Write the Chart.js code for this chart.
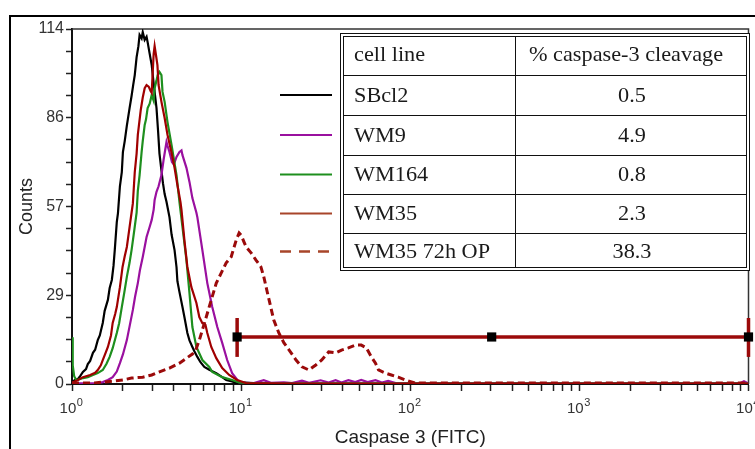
<!DOCTYPE html>
<html>
<head>
<meta charset="utf-8">
<script src="https://cdn.jsdelivr.net/npm/chart.js@4.4.0/dist/chart.umd.min.js"></script>
<style>
  html, body { margin: 0; padding: 0; background: #fff; }
  canvas { display: block; }
</style>
</head>
<body>
<canvas id="histo" width="755" height="449"></canvas>
<script>
// Caspase 3 (FITC) flow histograms: log intensity on x, counts on y

const xTicks = [1, 2, 3, 4, 5, 6, 7, 8, 9,
  10, 20, 30, 40, 50, 60, 70, 80, 90,
  100, 200, 300, 400, 500, 600, 700, 800, 900,
  1000, 2000, 3000, 4000, 5000, 6000, 7000, 8000, 9000, 10000];
const xDecades = [1, 10, 100, 1000, 10000];
const xExponents = ['0', '1', '2', '3', '4'];

const yTicks = [0, 7.125, 14.25, 21.375, 28.5, 35.625, 42.75, 49.875, 57,
  64.125, 71.25, 78.375, 85.5, 92.625, 99.75, 106.875, 114];
const yTickLabels = { 0: '0', 28.5: '29', 57: '57', 85.5: '86', 114: '114' };

// [intensity, counts]
const sbcl2 = [[1.00, 0.6], [1.04, 1.3], [1.085, 1.6], [1.12, 2.6], [1.16, 3.9], [1.21, 4.8], [1.24, 6.4],
  [1.28, 7.4], [1.33, 10.0], [1.37, 11.0], [1.42, 14.1], [1.46, 15.6], [1.52, 19.6], [1.56, 23.5],
  [1.63, 27.0], [1.67, 30.8], [1.72, 33.4], [1.76, 38.0], [1.79, 43.0], [1.84, 52.0], [1.87, 54.9],
  [1.92, 63.5], [1.97, 68.0], [2.00, 74.5], [2.05, 78.0], [2.11, 83.0], [2.19, 88.6], [2.25, 92.5],
  [2.30, 96.0], [2.35, 99.2], [2.41, 105.0], [2.47, 108.5], [2.51, 112.1], [2.58, 111.0], [2.62, 113.0],
  [2.69, 110.5], [2.76, 111.5], [2.80, 109.8], [2.88, 106.0], [2.96, 102.4], [3.04, 96.5], [3.16, 88.6],
  [3.23, 81.0], [3.29, 74.0], [3.38, 68.5], [3.45, 64.5], [3.53, 61.0], [3.62, 58.5], [3.77, 53.6],
  [3.88, 48.0], [4.04, 43.0], [4.15, 37.5], [4.20, 33.0], [4.32, 29.5], [4.50, 24.7], [4.62, 21.5],
  [4.81, 16.4], [4.95, 14.0], [5.15, 11.9], [5.29, 10.5], [5.51, 8.7], [5.75, 7.0], [6.06, 5.5],
  [6.48, 4.6], [7.13, 3.5], [7.73, 2.2], [8.16, 1.3], [8.85, 0.8], [9.35, 0.3], [11, 0.2], [20, 0.1],
  [10000, 0.1]];

const wm9 = [[1.00, 0.2], [1.42, 0.3], [1.52, 0.6], [1.63, 1.3], [1.74, 2.2], [1.84, 4.0], [1.92, 6.7],
  [2.00, 9.5], [2.11, 14.1], [2.19, 18.5], [2.29, 23.8], [2.36, 28.0], [2.45, 32.4], [2.52, 36.5],
  [2.62, 40.8], [2.70, 44.5], [2.76, 47.2], [2.88, 50.5], [2.96, 52.7], [3.04, 56.0], [3.08, 59.1],
  [3.16, 61.7], [3.25, 63.5], [3.38, 67.1], [3.48, 72.0], [3.62, 77.7], [3.67, 76.5], [3.77, 74.5],
  [3.90, 71.3], [4.00, 70.5], [4.15, 72.9], [4.32, 74.5], [4.44, 75.0], [4.50, 73.5], [4.75, 69.4],
  [4.95, 64.9], [5.15, 59.7], [5.44, 55.0], [5.51, 53.6], [5.90, 43.0], [6.31, 32.4], [6.75, 24.7],
  [7.23, 18.3], [7.73, 13.2], [8.27, 7.7], [8.85, 3.5], [9.73, 0.6], [10.4, 0.5], [11.9, 0.3],
  [13.6, 1.2], [15, 0.4], [17.9, 0.5], [20, 0.3], [22.9, 1.1], [25.2, 0.4], [29.5, 1.2], [32.9, 0.5],
  [36.2, 1.2], [39.2, 0.5], [43.1, 1.2], [47.3, 0.6], [51.3, 1.3], [56, 0.6], [62.3, 1.2], [68, 0.5],
  [74, 1.0], [82, 0.3], [100, 0.1], [8800, 0.1], [9400, 0.9], [10000, 0.2]];

const wm164 = [[1.00, 15.0], [1.01, 6.0], [1.03, 2.5], [1.06, 1.3], [1.12, 1.6], [1.16, 1.9], [1.24, 2.2],
  [1.33, 2.9], [1.42, 3.5], [1.52, 4.5], [1.60, 6.5], [1.67, 8.7], [1.74, 11.5], [1.84, 16.4],
  [1.90, 19.5], [1.97, 24.7], [2.04, 29.5], [2.11, 34.4], [2.19, 39.0], [2.25, 43.0], [2.33, 49.0],
  [2.41, 55.0], [2.45, 62.0], [2.51, 67.1], [2.58, 74.5], [2.62, 78.0], [2.69, 83.2], [2.74, 85.0],
  [2.80, 88.6], [2.88, 90.0], [2.96, 92.8], [3.04, 91.0], [3.08, 95.0], [3.16, 97.5], [3.21, 99.2],
  [3.29, 100.2], [3.38, 99.2], [3.43, 93.8], [3.53, 90.6], [3.67, 84.1], [3.88, 76.7], [4.15, 67.1],
  [4.32, 58.4], [4.50, 50.4], [4.75, 39.8], [4.95, 29.2], [5.15, 18.3], [5.44, 11.9], [5.90, 7.7],
  [6.48, 5.5], [6.75, 3.9], [7.73, 2.2], [8.85, 1.3], [9.73, 0.5], [12, 0.2], [10000, 0.1]];

const wm35 = [[1.00, 0.4], [1.085, 1.3], [1.16, 2.2], [1.28, 2.9], [1.37, 3.6], [1.42, 4.5], [1.48, 6.0],
  [1.52, 7.7], [1.58, 10.0], [1.63, 11.9], [1.70, 15.6], [1.74, 19.6], [1.80, 22.5], [1.84, 24.7],
  [1.92, 31.1], [1.99, 37.6], [2.05, 41.0], [2.11, 44.0], [2.19, 50.4], [2.25, 55.0], [2.29, 58.0],
  [2.35, 68.0], [2.41, 74.0], [2.45, 80.0], [2.55, 88.0], [2.62, 92.0], [2.69, 95.0], [2.76, 96.0],
  [2.84, 95.5], [2.92, 94.0], [2.96, 93.5], [3.00, 100.0], [3.04, 106.0], [3.08, 108.5], [3.14, 105.5],
  [3.20, 102.4], [3.25, 96.0], [3.38, 90.6], [3.53, 85.4], [3.67, 80.0], [3.87, 74.5], [4.04, 69.4],
  [4.20, 63.9], [4.38, 58.4], [4.44, 55.9], [4.62, 46.2], [4.81, 37.6], [5.08, 31.1], [5.44, 26.0],
  [5.66, 21.5], [5.90, 19.5], [6.15, 19.0], [6.31, 16.4], [6.66, 11.9], [7.13, 8.3], [7.73, 5.1],
  [8.50, 2.9], [9.47, 1.3], [10.7, 0.3], [20, 0.1], [10000, 0.1]];

const wm35op = [[1.00, 0.3], [1.36, 0.3], [1.52, 0.6], [1.74, 0.9], [2.00, 1.3], [2.25, 1.9], [2.62, 2.2],
  [2.96, 2.9], [3.29, 3.9], [3.77, 5.1], [4.32, 6.7], [4.75, 8.3], [5.15, 9.6], [5.40, 11.0],
  [5.66, 14.1], [6.22, 21.5], [6.66, 27.0], [7.13, 32.4], [7.62, 35.6], [8.16, 38.9], [8.73, 40.8],
  [9.35, 46.2], [9.73, 48.5], [10.0, 47.8], [10.42, 45.5], [10.71, 44.0], [11.45, 42.1], [12.24, 39.8],
  [13.09, 37.6], [13.62, 34.4], [14.18, 30.2], [14.97, 24.7], [15.58, 20.6], [16.71, 16.4],
  [17.92, 13.2], [19.23, 10.9], [21.12, 7.7], [22.92, 5.5], [25.17, 4.5], [27.65, 6.1], [29.98, 7.7],
  [32.93, 10.3], [36.17, 10.0], [39.22, 10.9], [43.08, 11.6], [47.3, 12.5], [51.3, 12.5], [55.0, 11.6],
  [58.9, 8.7], [62.3, 6.7], [64.9, 4.5], [71.3, 3.5], [77.3, 2.9], [84.9, 2.2], [93.2, 1.3],
  [106.9, 0.3], [10000, 0.3]];

// M1 marker gate
const gateLine = [[9.47, 15.1], [303, 15.1], [10000, 15.1]];
const gateLeftEnd = [[9.47, 8.7], [9.47, 21.2]];
const gateRightEnd = [[10000, 8.7], [10000, 21.2]];

const cellLines = ['SBcl2', 'WM9', 'WM164', 'WM35', 'WM35 72h OP'];
const cleavage = ['0.5', '4.9', '0.8', '2.3', '38.3'];
const keyColors = ['#000000', '#9a109f', '#1e8f1e', '#a8452a', '#a8452a'];
const keyDashed = [false, false, false, false, true];

const RED = '#9b0a0a';
const SANS = '"Liberation Sans", Arial, sans-serif';
const SERIF = '"Liberation Serif", "Times New Roman", serif';

const pts = arr => arr.map(([x, y]) => ({ x, y }));

function curve(data, color, extra) {
  return Object.assign({
    data: pts(data), borderColor: color, borderWidth: 2.2, pointRadius: 0, tension: 0, fill: false
  }, extra || {});
}

// table text is set a little wide
function wideText(ctx, text, x, y, align) {
  const sx = 1.06;
  const w = ctx.measureText(text).width * sx;
  const x0 = align === 'center' ? x - w / 2 : x;
  ctx.save();
  ctx.textAlign = 'left';
  ctx.translate(x0, y);
  ctx.scale(sx, 1);
  ctx.fillText(text, 0, 0);
  ctx.restore();
}

const framePlugin = {
  id: 'frame',
  beforeDraw(chart) {
    const { ctx, width, height } = chart;
    ctx.save();
    ctx.fillStyle = '#fff';
    ctx.fillRect(0, 0, width, height);
    ctx.strokeStyle = '#000';
    ctx.lineWidth = 2;
    ctx.beginPath();
    ctx.moveTo(10, height);
    ctx.lineTo(10, 16);
    ctx.lineTo(width, 16);
    ctx.stroke();
    ctx.restore();
  },
  beforeDatasetsDraw(chart) {
    const { ctx, chartArea: a } = chart;
    ctx.save();
    ctx.strokeStyle = '#333';
    ctx.lineWidth = 1.5;
    ctx.beginPath();
    ctx.moveTo(a.left, a.top);
    ctx.lineTo(a.right, a.top);
    ctx.lineTo(a.right, a.bottom);
    ctx.stroke();
    ctx.restore();
  },
  // decade labels as 10 with a raised exponent
  afterDraw(chart) {
    const { ctx } = chart;
    const xs = chart.scales.x;
    const base = xs.top + 29;
    ctx.save();
    ctx.fillStyle = '#333';
    ctx.textBaseline = 'alphabetic';
    ctx.textAlign = 'left';
    xDecades.forEach((v, i) => {
      const px = xs.getPixelForValue(v);
      ctx.font = '15px ' + SANS;
      const w1 = ctx.measureText('10').width;
      ctx.font = '11px ' + SANS;
      const w2 = ctx.measureText(xExponents[i]).width;
      const start = px - (w1 + w2) / 2 - 1;
      ctx.font = '15px ' + SANS;
      ctx.fillText('10', start, base);
      ctx.font = '11px ' + SANS;
      ctx.fillText(xExponents[i], start + w1 + 0.5, base - 7);
    });
    ctx.restore();
  }
};

const tablePlugin = {
  id: 'cleavageTable',
  afterDraw(chart) {
    const ctx = chart.ctx;
    const left = 340, mid = 515, right = 749;
    const rows = [33, 75, 115, 155, 194, 233, 270];
    ctx.save();
    ctx.fillStyle = '#fff';
    ctx.fillRect(left, rows[0], right - left, rows[6] - rows[0]);
    ctx.strokeStyle = '#111';
    ctx.lineWidth = 1;
    ctx.strokeRect(left + 0.5, rows[0] + 0.5, right - left, rows[6] - rows[0]);
    ctx.strokeRect(left + 3.5, rows[0] + 3.5, right - left - 6, rows[6] - rows[0] - 6);
    ctx.beginPath();
    for (let i = 1; i < rows.length - 1; i++) {
      ctx.moveTo(left + 3, rows[i] + 0.5);
      ctx.lineTo(right - 3, rows[i] + 0.5);
    }
    ctx.moveTo(mid + 0.5, rows[0] + 3);
    ctx.lineTo(mid + 0.5, rows[6] - 3);
    ctx.stroke();

    ctx.fillStyle = '#1a1a1a';
    ctx.font = '21px ' + SERIF;
    ctx.textBaseline = 'middle';
    const cy = i => (rows[i] + rows[i + 1]) / 2 + 1;
    const colCenter = (mid + right) / 2;
    wideText(ctx, 'cell line', 354, cy(0), 'left');
    wideText(ctx, '% caspase-3 cleavage', colCenter - 6, cy(0), 'center');
    cellLines.forEach((name, i) => {
      wideText(ctx, name, 354, cy(i + 1), 'left');
      wideText(ctx, cleavage[i], colCenter, cy(i + 1), 'center');

      ctx.strokeStyle = keyColors[i];
      ctx.lineWidth = keyDashed[i] ? 2.5 : 2;
      ctx.setLineDash(keyDashed[i] ? [11, 8] : []);
      ctx.beginPath();
      ctx.moveTo(280, cy(i + 1) - 1);
      ctx.lineTo(332, cy(i + 1) - 1);
      ctx.stroke();
    });
    ctx.restore();
  }
};

new Chart(document.getElementById('histo'), {
  type: 'line',
  data: {
    datasets: [
      curve(gateLine, RED, { borderWidth: 3.5, pointRadius: 6.5, pointStyle: 'rect',
        pointBackgroundColor: '#000', pointBorderColor: '#000', pointBorderWidth: 0, clip: false }),
      curve(gateLeftEnd, RED, { borderWidth: 3.5, clip: false }),
      curve(gateRightEnd, RED, { borderWidth: 3.5, clip: false }),
      curve(wm35op, RED, { borderWidth: 3, borderDash: [7, 4] }),
      curve(wm35, '#a00000'),
      curve(wm164, '#1e8f1e'),
      curve(wm9, '#9a109f'),
      curve(sbcl2, '#000000')
    ]
  },
  options: {
    responsive: false,
    animation: false,
    devicePixelRatio: 1,
    layout: { padding: { top: 29, right: 3, left: 0, bottom: 0 } },
    plugins: { legend: { display: false }, tooltip: { enabled: false } },
    scales: {
      x: {
        type: 'logarithmic',
        min: 1,
        max: 10000,
        afterBuildTicks: s => { s.ticks = xTicks.map(v => ({ value: v })); },
        afterFit: s => { s.height = 65; s.paddingLeft = 0; s.paddingRight = 0; },
        ticks: { autoSkip: false, maxRotation: 0, callback: () => '' },
        grid: { drawOnChartArea: false, tickLength: 7, tickWidth: 1.5, tickColor: '#222' },
        border: { color: '#111', width: 2 },
        title: { display: true, text: 'Caspase 3 (FITC)', color: '#222',
          font: { family: SANS, size: 19 }, padding: { top: 0, bottom: 0 } }
      },
      y: {
        min: 0,
        max: 114,
        afterBuildTicks: s => { s.ticks = yTicks.map(v => ({ value: v })); },
        afterFit: s => { s.width = 72; s.paddingTop = 0; s.paddingBottom = 0; },
        ticks: {
          autoSkip: false, padding: 2, color: '#333',
          font: { family: SANS, size: 16 },
          callback: v => (v in yTickLabels ? yTickLabels[v] : '')
        },
        grid: { drawOnChartArea: false, tickLength: 6, tickWidth: 1.5, tickColor: '#222' },
        border: { color: '#111', width: 2 },
        title: { display: true, text: 'Counts', color: '#222',
          font: { family: SANS, size: 18 }, padding: { top: 16, bottom: 0 } }
      }
    }
  },
  plugins: [framePlugin, tablePlugin]
});
</script>
</body>
</html>
